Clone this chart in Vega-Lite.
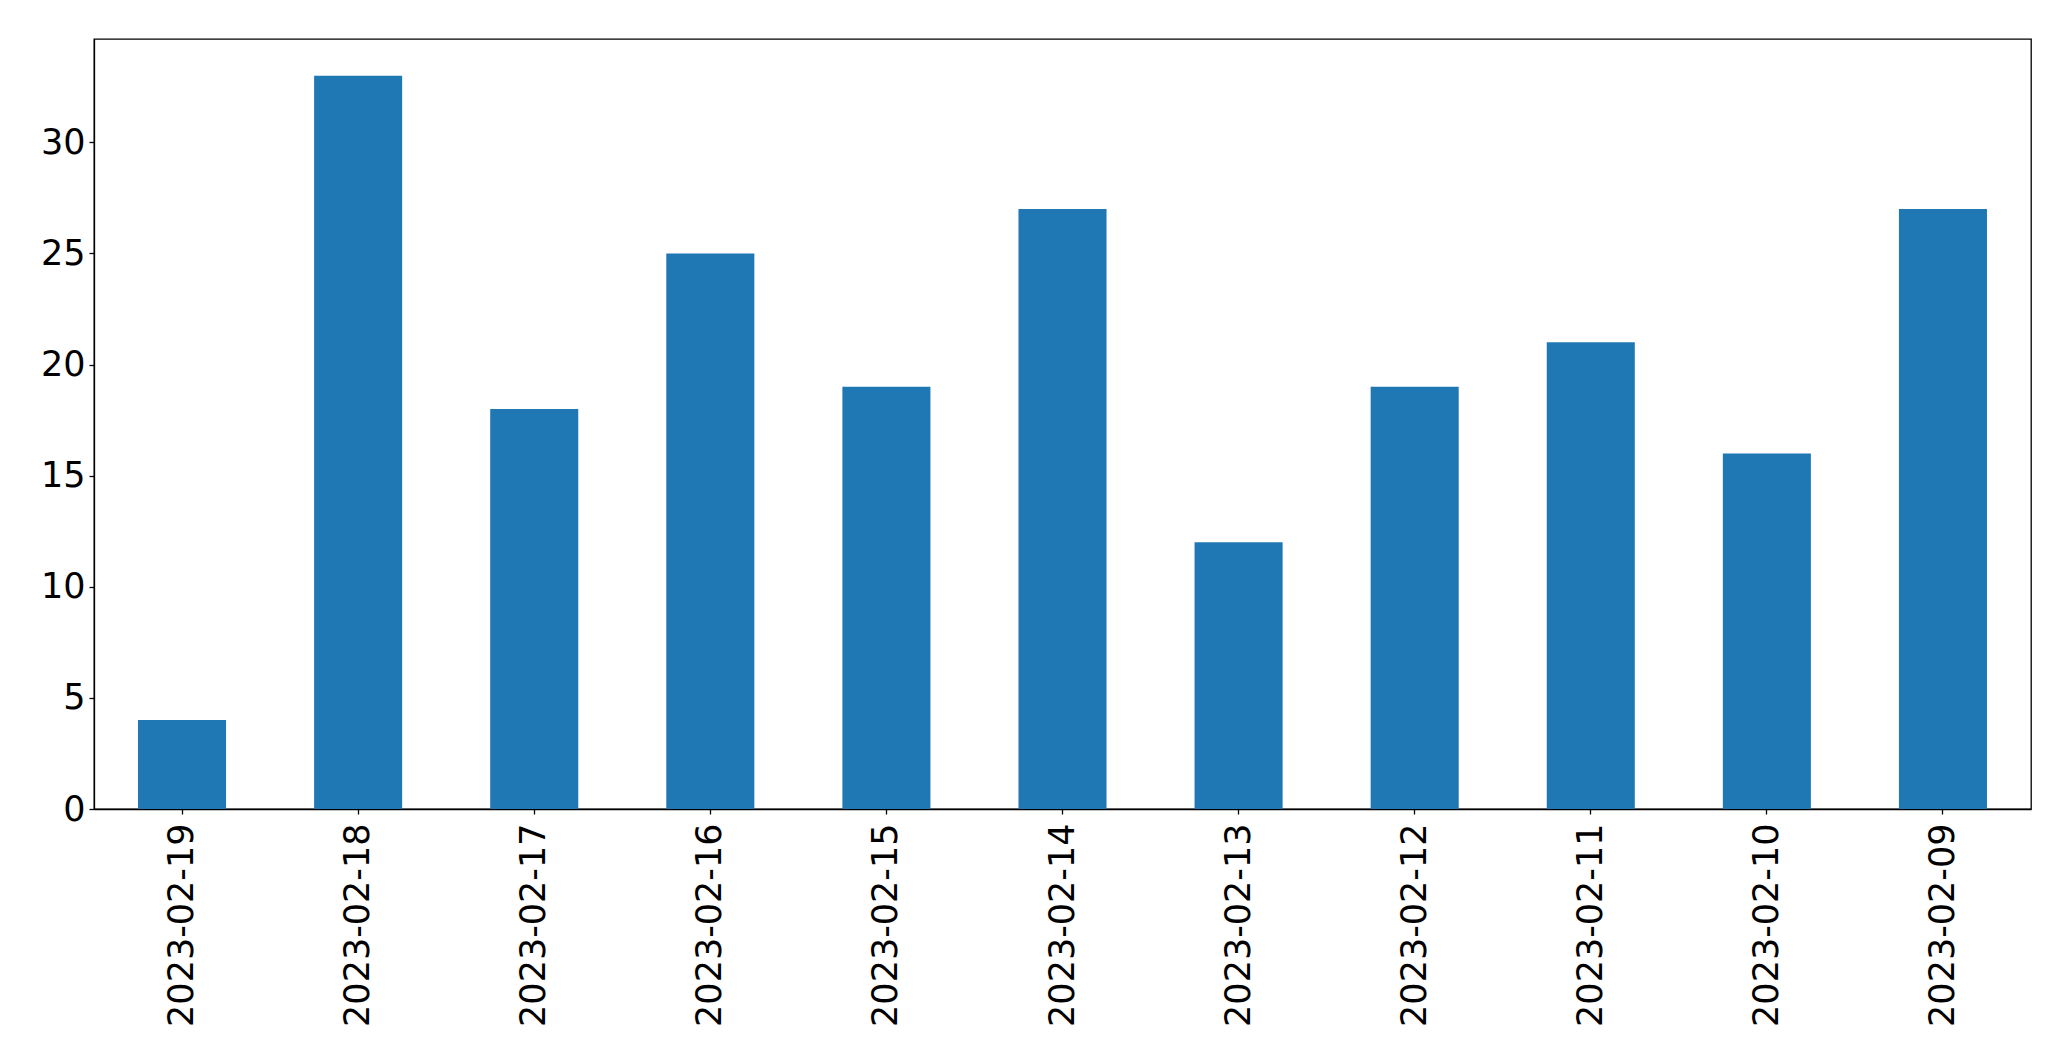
{
  "$schema": "https://vega.github.io/schema/vega-lite/v6.json",
  "width": 1937,
  "height": 770,
  "autosize": {"type": "none"},
  "padding": {"left": 94, "top": 39, "right": 40, "bottom": 252},
  "background": "white",
  "config": {
    "font": "DejaVu Sans",
    "view": {"stroke": "black", "strokeWidth": 1.3},
    "axis": {
      "grid": false,
      "domainColor": "black",
      "domainWidth": 1.3,
      "tickColor": "black",
      "tickWidth": 1.3,
      "tickSize": 5,
      "labelColor": "black",
      "labelFont": "DejaVu Sans",
      "labelFontSize": 35,
      "labelLimit": 0,
      "title": null
    }
  },
  "data": {
    "values": [
      {"date": "2023-02-19", "count": 4},
      {"date": "2023-02-18", "count": 33},
      {"date": "2023-02-17", "count": 18},
      {"date": "2023-02-16", "count": 25},
      {"date": "2023-02-15", "count": 19},
      {"date": "2023-02-14", "count": 27},
      {"date": "2023-02-13", "count": 12},
      {"date": "2023-02-12", "count": 19},
      {"date": "2023-02-11", "count": 21},
      {"date": "2023-02-10", "count": 16},
      {"date": "2023-02-09", "count": 27}
    ]
  },
  "mark": {"type": "bar", "color": "#1f77b4"},
  "encoding": {
    "x": {
      "field": "date",
      "type": "nominal",
      "sort": null,
      "scale": {"paddingInner": 0.5, "paddingOuter": 0.25},
      "axis": {"labelAngle": -90, "labelPadding": 9}
    },
    "y": {
      "field": "count",
      "type": "quantitative",
      "scale": {"domain": [0, 34.65], "nice": false, "zero": true},
      "axis": {"values": [0, 5, 10, 15, 20, 25, 30], "labelPadding": 4}
    }
  }
}
